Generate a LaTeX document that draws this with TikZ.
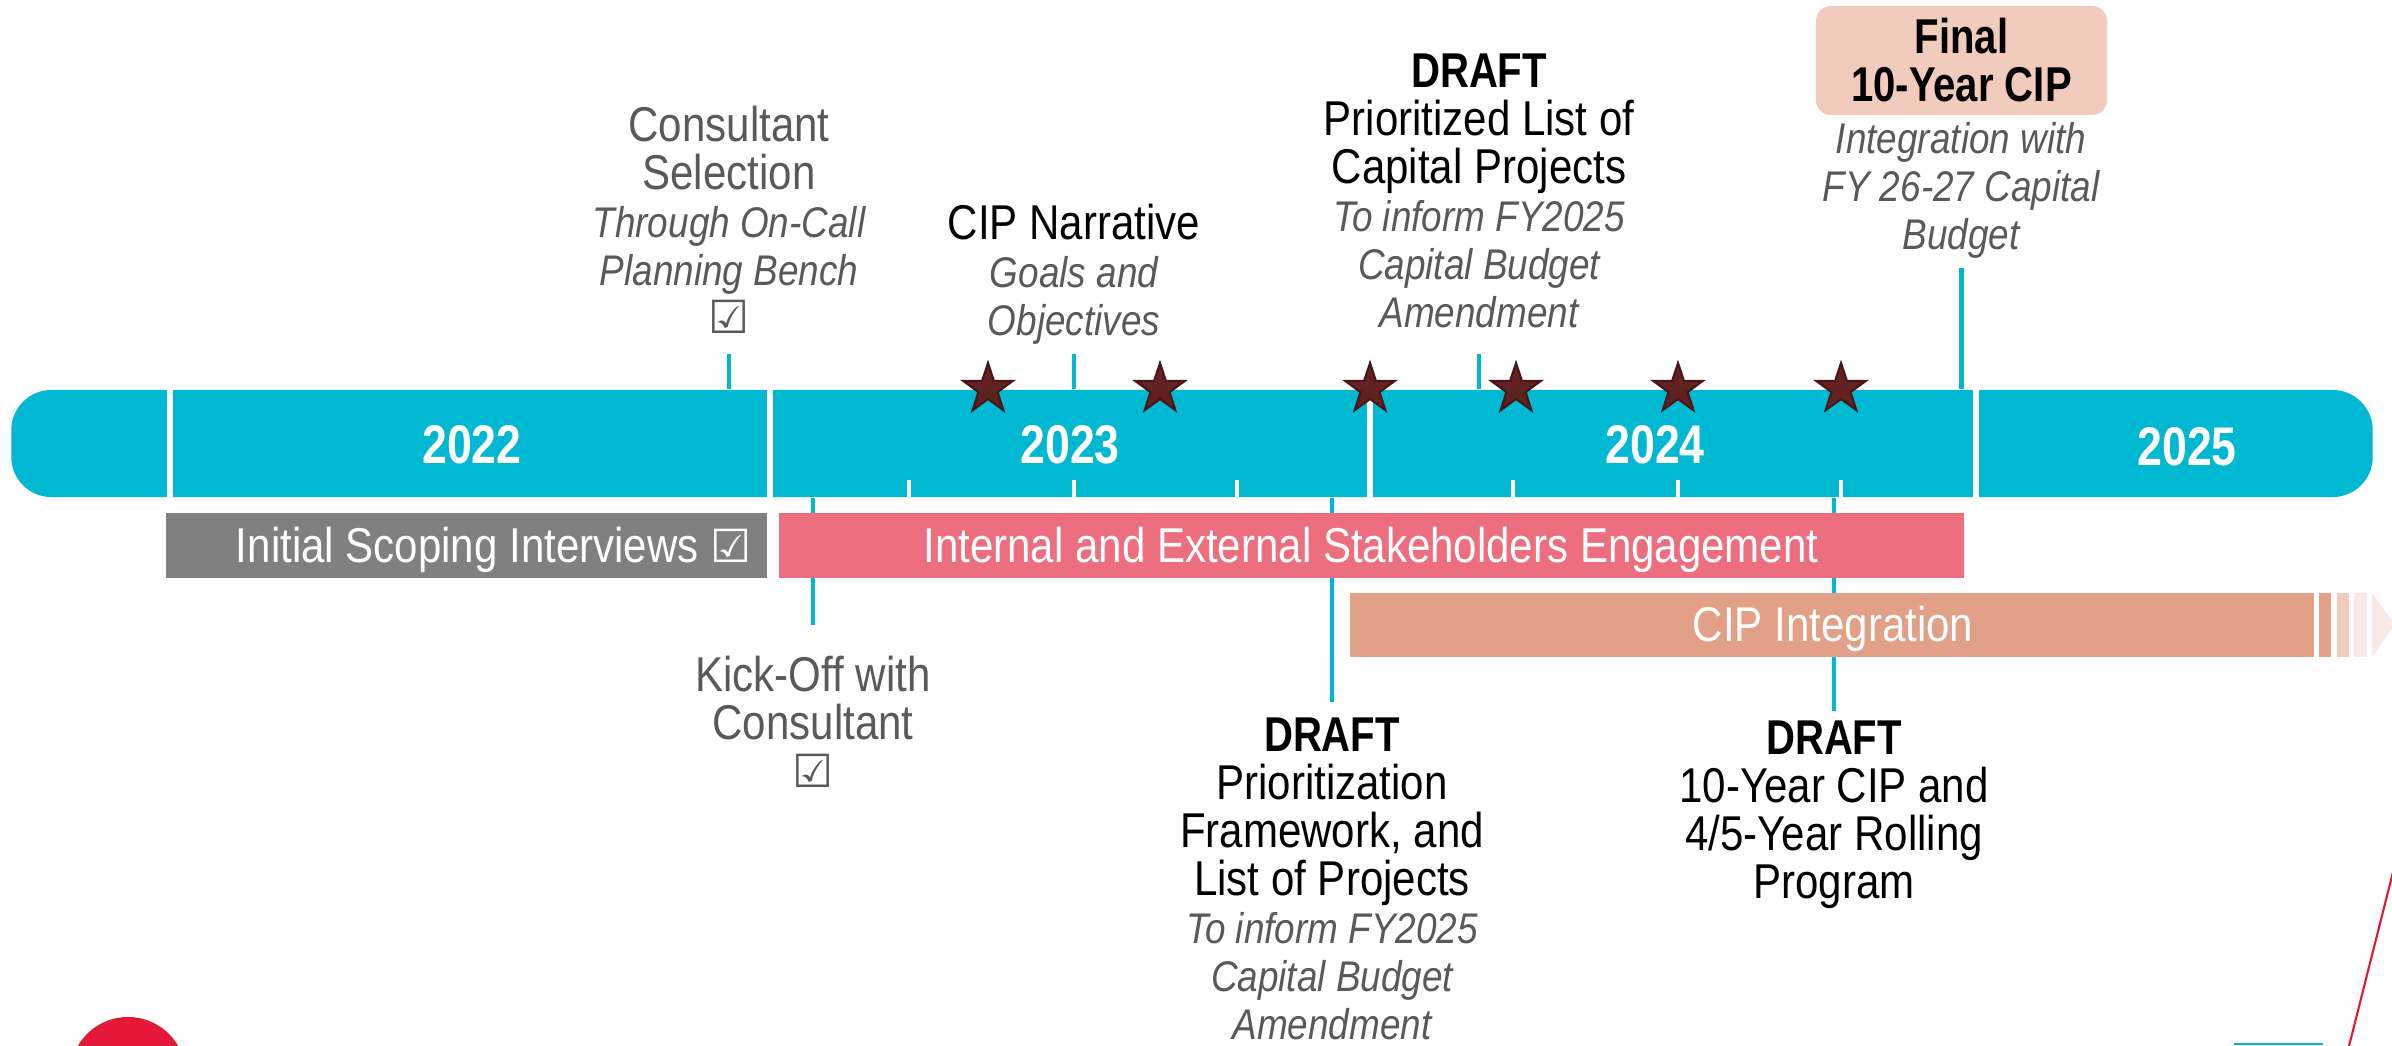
\documentclass[tikz,border=0pt]{standalone}
\usepackage{fontspec}
\setmainfont{Liberation Sans}[FakeStretch=0.86,BoldFeatures={FakeStretch=0.82}]
\newfontfamily\tickfont{DejaVu Sans}
\usepackage{tikz}
\usetikzlibrary{shapes.geometric}
\usetikzlibrary{calc}

\definecolor{tlcyan}{RGB}{0,184,209}
\definecolor{engpink}{RGB}{237,111,127}
\definecolor{cipsalmon}{RGB}{226,160,135}
\definecolor{cipfade}{RGB}{241,203,188}
\definecolor{cipfaint}{RGB}{248,233,228}
\definecolor{scopegray}{RGB}{128,128,128}
\definecolor{notegray}{RGB}{89,89,89}
\definecolor{starfill}{RGB}{99,34,34}
\definecolor{staredge}{RGB}{72,22,22}
\definecolor{logored}{RGB}{227,24,55}

\newcommand{\ticked}{{\tickfont\fontsize{13pt}{13.66pt}\selectfont ☑}}
\newcommand{\lnreg}{\fontsize{13.9pt}{13.66pt}\selectfont}
\newcommand{\lnbold}{\fontsize{13.9pt}{13.66pt}\selectfont\bfseries}
\newcommand{\lnit}{\fontsize{12.2pt}{13.66pt}\selectfont\itshape\color{notegray}}

\tikzset{
	yearlbl/.style={anchor=base, inner sep=0pt, text=white, font=\fontsize{15.5pt}{16pt}\selectfont\bfseries},
	barlbl/.style={anchor=base, inner sep=0pt, text=white, font=\lnreg},
	note/.style={align=center, anchor=north, inner sep=0pt, font=\lnreg},
	milestone/.style={star, star points=5, star point ratio=2.6, minimum size=0.52cm, inner sep=0pt, fill=starfill, draw=staredge, line width=0.6pt},
	link/.style={tlcyan, line width=1.4pt},
	gap/.style={white, line width=1.8pt}
}

\begin{document}
\begin{tikzpicture}[x=0.01cm, y=-0.01cm]
	\useasboundingbox (0,0) rectangle (2392,1045);

	\node[fill=tlcyan, rounded corners=0.4cm, minimum width=23.6cm, minimum height=1.07cm, inner sep=0pt] (bar) at (1192,443.5) {};
	\foreach \x in {170,770,1370,1976}
		\draw[gap] (\x,0 |- bar.north) -- (\x,0 |- bar.south);
	\foreach \x in {909,1074,1237,1513,1678,1841}
		\draw[white, line width=1.4pt] (\x,480) -- (\x,0 |- bar.south);

	\node[yearlbl] (y2022) at (472,463) {2022};
	\node[yearlbl] (y2023) at (1070,463) {2023};
	\node[yearlbl] (y2024) at (1655,463) {2024};
	\node[yearlbl] (y2025) at (2187,465) {2025};

	\foreach \x [count=\i] in {988,1160,1370,1516,1678,1841}
		\node[milestone] (st\i) at (\x,389) {};

	\node[note, text=notegray] (sel) at (729,105) {Consultant\\Selection\\\lnit Through On-Call\\\lnit Planning Bench\\\ticked};
	\node[note] (narr) at (1074,203) {CIP Narrative\\\lnit Goals and\\\lnit Objectives};
	\node[note] (plist) at (1479,53) {\lnbold DRAFT\\Prioritized List of\\Capital Projects\\\lnit To inform FY2025\\\lnit Capital Budget\\\lnit Amendment};
	\node[fill=cipfade, rounded corners=0.15cm, minimum width=2.91cm, minimum height=1.09cm, inner sep=0pt, align=center, font=\lnbold] (final) at (1961.5,60.5) {Final\\10-Year CIP};
	\node[note, text=notegray, font=\fontsize{12.2pt}{13.66pt}\selectfont\itshape] (finnote) at (1961,122) {Integration with\\FY 26-27 Capital\\Budget};

	\node[note, text=notegray] (kick) at (813,655) {Kick-Off with\\Consultant\\\ticked};
	\node[note] (dprio) at (1332,717) {\lnbold DRAFT\\Prioritization\\Framework, and\\List of Projects\\\lnit To inform FY2025\\\lnit Capital Budget\\\lnit Amendment};
	\node[note] (dcip) at (1834,720) {\lnbold DRAFT\\10-Year CIP and\\4/5-Year Rolling\\Program};

	\coordinate (linetop) at (0,354);
	\foreach \n in {sel,narr,plist}
		\draw[link] (\n.south |- linetop) -- (\n.south |- bar.north);
	\draw[link] ([yshift=-2.5pt]finnote.south) -- (finnote.south |- bar.north);
	\draw[link] (kick.north |- bar.south) -- ([yshift=8.5pt]kick.north);
	\draw[link] (dprio.north |- bar.south) -- ([yshift=4.3pt]dprio.north);
	\draw[link] (dcip.north |- bar.south) -- ([yshift=2.6pt]dcip.north);

	\fill[scopegray] (166,513) rectangle (767,578);
	\fill[engpink] (779,513) rectangle (1964,578);
	\fill[cipsalmon] (1350,593) rectangle (2314,657);
	\fill[cipsalmon] (2319,593) rectangle (2331,657);
	\fill[cipfade] (2337,593) rectangle (2349,657);
	\fill[cipfaint] (2354,593) rectangle (2367,657);
	\fill[cipfaint] (2372,593) -- (2395,625) -- (2372,657) -- cycle;

	\node[barlbl, anchor=base east] (scopetxt) at (752,562) {Initial Scoping Interviews \ticked};
	\node[barlbl] (engtxt) at (1371,562) {Internal and External Stakeholders Engagement};
	\node[barlbl] (ciptxt) at (1833,641) {CIP Integration};

	\fill[logored] (128,1075) circle (0.58cm);
	\draw[logored, line width=0.6pt] (2396,860) -- (2348,1050);
	\draw[tlcyan, line width=0.6pt] (2234,1044) -- (2323,1044);
\end{tikzpicture}
\end{document}
